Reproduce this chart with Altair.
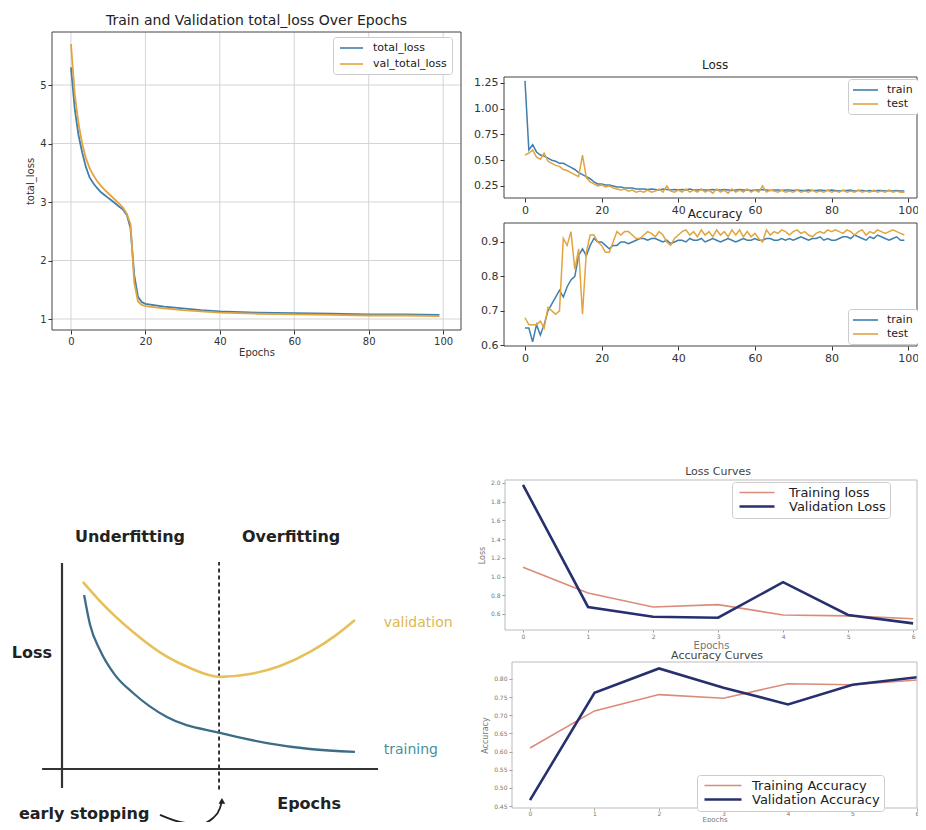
import altair as alt
import pandas as pd

W, H = 910, 814   # drawing area (page minus 8px margins)
M = 8             # page margin

# ---------------- Panel A: Train and Validation total_loss Over Epochs ----------------
a_epochs = [0, 1, 2, 3, 4, 5, 6, 7, 8, 9, 10, 11, 12, 13, 14, 15, 16, 17, 18, 19, 20,
            25, 30, 35, 40, 50, 60, 70, 80, 90, 99]
a_total_loss = [5.30, 4.60, 4.15, 3.85, 3.60, 3.42, 3.32, 3.24, 3.17, 3.12, 3.07, 3.02, 2.97,
                2.92, 2.87, 2.78, 2.55, 1.75, 1.38, 1.29, 1.26,
                1.21, 1.18, 1.15, 1.13, 1.11, 1.10, 1.09, 1.08, 1.08, 1.07]
a_val_total_loss = [5.70, 4.85, 4.35, 4.00, 3.75, 3.58, 3.46, 3.36, 3.28, 3.21, 3.15, 3.09, 3.03,
                    2.97, 2.90, 2.80, 2.62, 1.62, 1.30, 1.24, 1.22,
                    1.18, 1.15, 1.13, 1.11, 1.09, 1.08, 1.07, 1.06, 1.06, 1.05]
a_names = ["total_loss", "val_total_loss"]
a_xticks = [0, 20, 40, 60, 80, 100]
a_yticks = [1, 2, 3, 4, 5]

# ---------------- Panels B / C: Loss and Accuracy (100 epochs) ----------------
bc_epochs = list(range(100))
loss_train = [1.27, 0.60, 0.65, 0.58, 0.55, 0.54, 0.52, 0.50, 0.49, 0.47,
              0.47, 0.45, 0.43, 0.41, 0.38, 0.36, 0.34, 0.32, 0.29, 0.27,
              0.27, 0.26, 0.26, 0.25, 0.24, 0.24, 0.23, 0.23, 0.23, 0.22,
              0.22, 0.22, 0.215, 0.22, 0.215, 0.21, 0.22, 0.215, 0.21, 0.215,
              0.21, 0.215, 0.21, 0.22, 0.21, 0.21, 0.215, 0.21, 0.21, 0.215,
              0.21, 0.21, 0.215, 0.21, 0.205, 0.21, 0.215, 0.21, 0.21, 0.205,
              0.21, 0.21, 0.215, 0.21, 0.205, 0.21, 0.21, 0.205, 0.21, 0.21,
              0.205, 0.21, 0.205, 0.205, 0.21, 0.205, 0.205, 0.21, 0.205, 0.205,
              0.21, 0.205, 0.20, 0.205, 0.205, 0.21, 0.20, 0.205, 0.205, 0.20,
              0.205, 0.20, 0.205, 0.205, 0.20, 0.205, 0.20, 0.205, 0.20, 0.20]
loss_test = [0.55, 0.57, 0.60, 0.53, 0.51, 0.57, 0.49, 0.47, 0.45, 0.44,
             0.41, 0.40, 0.38, 0.36, 0.34, 0.55, 0.33, 0.29, 0.27, 0.25,
             0.26, 0.24, 0.25, 0.23, 0.22, 0.21, 0.22, 0.20, 0.21, 0.19,
             0.20, 0.19, 0.21, 0.19, 0.20, 0.22, 0.19, 0.25, 0.20, 0.19,
             0.21, 0.19, 0.22, 0.19, 0.21, 0.19, 0.22, 0.19, 0.21, 0.18,
             0.22, 0.19, 0.21, 0.18, 0.22, 0.19, 0.21, 0.19, 0.22, 0.19,
             0.21, 0.19, 0.25, 0.19, 0.21, 0.20, 0.19, 0.21, 0.19, 0.20,
             0.19, 0.21, 0.19, 0.20, 0.19, 0.21, 0.19, 0.20, 0.19, 0.21,
             0.19, 0.20, 0.19, 0.21, 0.19, 0.20, 0.19, 0.21, 0.19, 0.20,
             0.19, 0.21, 0.19, 0.20, 0.19, 0.21, 0.19, 0.20, 0.19, 0.19]
acc_train = [0.65, 0.65, 0.61, 0.66, 0.63, 0.66, 0.70, 0.72, 0.74, 0.76,
             0.74, 0.77, 0.79, 0.80, 0.86, 0.88, 0.86, 0.89, 0.91, 0.90,
             0.90, 0.89, 0.88, 0.89, 0.89, 0.90, 0.90, 0.895, 0.90, 0.905,
             0.91, 0.91, 0.905, 0.91, 0.91, 0.905, 0.90, 0.905, 0.895, 0.90,
             0.905, 0.905, 0.90, 0.91, 0.905, 0.905, 0.91, 0.90, 0.905, 0.91,
             0.905, 0.90, 0.905, 0.91, 0.905, 0.90, 0.905, 0.91, 0.905, 0.905,
             0.91, 0.905, 0.905, 0.91, 0.91, 0.905, 0.905, 0.91, 0.905, 0.91,
             0.905, 0.91, 0.915, 0.91, 0.905, 0.91, 0.91, 0.915, 0.905, 0.91,
             0.905, 0.905, 0.91, 0.915, 0.915, 0.91, 0.92, 0.915, 0.91, 0.905,
             0.915, 0.91, 0.92, 0.915, 0.91, 0.905, 0.91, 0.915, 0.905, 0.905]
acc_test = [0.68, 0.66, 0.66, 0.66, 0.67, 0.65, 0.71, 0.70, 0.69, 0.70,
            0.91, 0.89, 0.93, 0.82, 0.88, 0.69, 0.87, 0.92, 0.92, 0.90,
            0.89, 0.87, 0.87, 0.90, 0.93, 0.92, 0.93, 0.93, 0.92, 0.91,
            0.91, 0.92, 0.93, 0.925, 0.915, 0.93, 0.92, 0.90, 0.89, 0.91,
            0.92, 0.93, 0.935, 0.92, 0.93, 0.915, 0.935, 0.92, 0.93, 0.915,
            0.935, 0.92, 0.93, 0.915, 0.935, 0.92, 0.935, 0.915, 0.93, 0.915,
            0.925, 0.91, 0.90, 0.935, 0.92, 0.93, 0.925, 0.935, 0.93, 0.92,
            0.93, 0.935, 0.925, 0.93, 0.92, 0.915, 0.925, 0.93, 0.925, 0.935,
            0.93, 0.935, 0.93, 0.925, 0.935, 0.93, 0.92, 0.93, 0.935, 0.92,
            0.93, 0.925, 0.935, 0.93, 0.925, 0.93, 0.935, 0.93, 0.925, 0.92]
bc_names = ["train", "test"]
bc_xticks = [0, 20, 40, 60, 80, 100]
b_yticks = [0.25, 0.50, 0.75, 1.00, 1.25]
c_yticks = [0.6, 0.7, 0.8, 0.9]

# ---------------- Panels D / E: Loss Curves and Accuracy Curves (7 epochs) ----------------
de_epochs = [0, 1, 2, 3, 4, 5, 6]
train_loss = [1.10, 0.825, 0.675, 0.70, 0.59, 0.58, 0.55]
val_loss = [1.98, 0.675, 0.57, 0.56, 0.94, 0.59, 0.50]
train_acc = [0.61, 0.712, 0.757, 0.747, 0.787, 0.784, 0.797]
val_acc = [0.466, 0.762, 0.829, 0.776, 0.730, 0.784, 0.805]
d_names = ["Training loss", "Validation Loss"]
e_names = ["Training Accuracy", "Validation Accuracy"]
d_yticks = [0.6, 0.8, 1.0, 1.2, 1.4, 1.6, 1.8, 2.0]
e_yticks = [0.45, 0.50, 0.55, 0.60, 0.65, 0.70, 0.75, 0.80]

# ---------------- Panel F: underfitting / overfitting sketch (arbitrary units) ----------------
diag_val_x = [0.66, 1.20, 2.25, 3.32, 4.05, 5.00, 5.95, 6.90, 7.85, 8.64, 9.27]
diag_val_y = [9.08, 8.15, 6.65, 5.45, 4.90, 4.47, 4.61, 5.00, 5.68, 6.46, 7.23]
diag_train_x = [0.70, 0.89, 1.20, 1.68, 2.25, 3.32, 5.00, 6.49, 7.85, 9.27]
diag_train_y = [8.45, 6.99, 5.78, 4.56, 3.69, 2.52, 1.75, 1.26, 0.97, 0.83]
diag_axes = {"x": [0.0, -0.63], "x2": [0.0, 10.0], "y": [-0.92, 0.0], "y2": [10.0, 0.0]}
diag_stop = {"x": [4.97], "y": [-1.0], "y2": [10.05]}
arrow_x = [3.10, 3.73, 4.37, 4.78, 5.00, 5.06]
arrow_y = [-2.23, -2.57, -2.67, -2.38, -1.89, -1.55]
diag_labels = ["Underfitting", "Overfitting", "Loss", "Epochs", "early stopping"]
diag_label_x = [2.15, 7.25, -0.95, 7.82, 0.70]
diag_label_y = [11.26, 11.26, 5.63, -1.70, -2.18]


# ---------------- helpers ----------------
def long_df(xv, series, names):
    rows = []
    for n in names:
        for a, b in zip(xv, series[n]):
            rows.append({"x": a, "y": b, "series": n})
    return pd.DataFrame(rows)


def sx(dom, left, right):
    return alt.Scale(domain=dom, range=[left - M, right - M], nice=False, zero=False)


def sy(dom, bottom, top):
    return alt.Scale(domain=dom, range=[bottom - M, top - M], nice=False, zero=False)


def xaxis(bottom, values, fmt, title, lsize, tsize, color="#333333", tick=4, tcolor="#333333",
          lpad=2, tpad=1):
    return alt.Axis(orient="bottom", offset=(bottom - M) - H, values=values, format=fmt,
                    title=title, labelFontSize=lsize, titleFontSize=tsize, tickSize=tick,
                    domain=False, grid=False, labelFlush=False, labelOverlap=False,
                    tickColor=color, labelColor=tcolor, titleColor=tcolor,
                    titleFontWeight="normal", labelPadding=lpad, titlePadding=tpad)


def yaxis(left, values, fmt, title, lsize, tsize, color="#333333", tick=4, tcolor="#333333"):
    return alt.Axis(orient="left", offset=-(left - M), values=values, format=fmt,
                    title=title, labelFontSize=lsize, titleFontSize=tsize, tickSize=tick,
                    domain=False, grid=False, labelOverlap=False,
                    tickColor=color, labelColor=tcolor, titleColor=tcolor,
                    titleFontWeight="normal", labelPadding=2, titlePadding=4)


def frame(X, Y, xd, yd, color, width=1.0):
    df = pd.DataFrame({"x0": [xd[0]], "x1": [xd[1]], "y0": [yd[0]], "y1": [yd[1]]})
    return alt.Chart(df).mark_rect(fillOpacity=0, stroke=color, strokeWidth=width).encode(
        x=alt.X("x0:Q", scale=X, axis=None), x2="x1:Q",
        y=alt.Y("y0:Q", scale=Y, axis=None), y2="y1:Q")


def ptitle(X, Y, xd, yd, text, size, dy, color="#222222", cx=None):
    mid = (xd[0] + xd[1]) / 2 if cx is None else cx
    df = pd.DataFrame({"x": [mid], "y": [yd[1]], "label": [text]})
    return alt.Chart(df).mark_text(fontSize=size, dy=dy, color=color, baseline="middle").encode(
        x=alt.X("x:Q", scale=X, axis=None), y=alt.Y("y:Q", scale=Y, axis=None), text="label:N")


def leg(x, y, font, size, path, loff, rpad, pad, sw):
    return alt.Legend(orient="none", legendX=x - M, legendY=y - M, title=None,
                      labelFontSize=font, symbolType=path, symbolSize=size,
                      symbolStrokeWidth=sw, labelOffset=loff, rowPadding=rpad,
                      padding=pad, fillColor="white", strokeColor="#cccccc",
                      cornerRadius=3, labelColor="#222222")


BLUE = "#3f7fae"
ORANGE = "#e2a43e"

# ---------------- Panel A ----------------
A_XD, A_YD = [-5.1, 104.8], [0.812, 5.906]
A_X, A_Y = sx(A_XD, 52, 461), sy(A_YD, 330, 32)
a_df = long_df(a_epochs, {"total_loss": a_total_loss, "val_total_loss": a_val_total_loss}, a_names)
a_gx = pd.DataFrame({"t": a_xticks, "y0": A_YD[0], "y1": A_YD[1]})
a_gy = pd.DataFrame({"t": a_yticks, "x0": A_XD[0], "x1": A_XD[1]})
panelA = [
    alt.Chart(a_gx).mark_rule(color="#d0d0d0", strokeWidth=0.9).encode(
        x=alt.X("t:Q", scale=A_X, axis=None), y=alt.Y("y0:Q", scale=A_Y, axis=None), y2="y1:Q"),
    alt.Chart(a_gy).mark_rule(color="#d0d0d0", strokeWidth=0.9).encode(
        y=alt.Y("t:Q", scale=A_Y, axis=None), x=alt.X("x0:Q", scale=A_X, axis=None), x2="x1:Q"),
    alt.Chart(a_df).mark_line(strokeWidth=1.8).encode(
        x=alt.X("x:Q", scale=A_X, axis=xaxis(330, a_xticks, "d", "Epochs", 10, 10)),
        y=alt.Y("y:Q", scale=A_Y, axis=yaxis(52, a_yticks, "d", "total_loss", 10, 10)),
        color=alt.Color("series:N", scale=alt.Scale(domain=a_names, range=[BLUE, ORANGE]),
                        legend=leg(333, 37, 11, 100, "M-0.8,0H3.8", 23, 5, 5, 1.6))),
    frame(A_X, A_Y, A_XD, A_YD, "#444444", 1.0),
    ptitle(A_X, A_Y, A_XD, A_YD, "Train and Validation total_loss Over Epochs", 14, -11),
]

# ---------------- Panel B (Loss) ----------------
B_XD, B_YD = [-5.48, 102.3], [0.133, 1.308]
B_X, B_Y = sx(B_XD, 504, 917), sy(B_YD, 198, 77)
b_df = long_df(bc_epochs, {"train": loss_train, "test": loss_test}, bc_names)
panelB = [
    alt.Chart(b_df).mark_line(strokeWidth=1.5).encode(
        x=alt.X("x:Q", scale=B_X, axis=xaxis(198, bc_xticks, "d", None, 11, 10)),
        y=alt.Y("y:Q", scale=B_Y, axis=yaxis(504, b_yticks, ".2f", None, 11, 10)),
        color=alt.Color("series:N", scale=alt.Scale(domain=bc_names, range=[BLUE, ORANGE]),
                        legend=leg(848, 79, 11, 100, "M-1.2,0H3.8", 22, 3, 5, 1.6))),
    frame(B_X, B_Y, B_XD, B_YD, "#444444", 1.0),
    ptitle(B_X, B_Y, B_XD, B_YD, "Loss", 12, -12, cx=49.6),
]

# ---------------- Panel C (Accuracy) ----------------
C_XD, C_YD = [-5.48, 102.3], [0.598, 0.955]
C_X, C_Y = sx(C_XD, 504, 917), sy(C_YD, 346, 223)
c_df = long_df(bc_epochs, {"train": acc_train, "test": acc_test}, bc_names)
panelC = [
    alt.Chart(c_df).mark_line(strokeWidth=1.5).encode(
        x=alt.X("x:Q", scale=C_X, axis=xaxis(346, bc_xticks, "d", None, 11, 10)),
        y=alt.Y("y:Q", scale=C_Y, axis=yaxis(504, c_yticks, ".1f", None, 11, 10)),
        color=alt.Color("series:N", scale=alt.Scale(domain=bc_names, range=[BLUE, ORANGE]),
                        legend=leg(848, 309, 11, 100, "M-1.2,0H3.8", 22, 3, 5, 1.6))),
    frame(C_X, C_Y, C_XD, C_YD, "#444444", 1.0),
    ptitle(C_X, C_Y, C_XD, C_YD, "Accuracy", 12, -9, cx=49.6),
]

# ---------------- Panel D (Loss Curves) ----------------
SALMON = "#dc8b78"
NAVY = "#27306f"
D_XD, D_YD = [-0.277, 6.06], [0.429, 2.032]
D_X, D_Y = sx(D_XD, 505, 917), sy(D_YD, 630, 480)
d_df = long_df(de_epochs, {"Training loss": train_loss, "Validation Loss": val_loss}, d_names)
panelD = [
    alt.Chart(d_df).mark_line().encode(
        x=alt.X("x:Q", scale=D_X, axis=xaxis(630, de_epochs, "d", "Epochs", 6, 10, "#999999", 2, "#777777", 1)),
        y=alt.Y("y:Q", scale=D_Y, axis=yaxis(505, d_yticks, ".1f", "Loss", 6, 8, "#999999", 3, "#777777")),
        color=alt.Color("series:N", scale=alt.Scale(domain=d_names, range=[SALMON, NAVY]),
                        legend=leg(732, 482, 13, 100, "M-0.6,0H6.4", 40, -1, 4, 2.2)),
        strokeWidth=alt.StrokeWidth("series:N", scale=alt.Scale(domain=d_names, range=[1.6, 2.6]), legend=None)),
    frame(D_X, D_Y, D_XD, D_YD, "#bbbbbb", 1.0),
    ptitle(D_X, D_Y, D_XD, D_YD, "Loss Curves", 11, -8, "#444444", cx=3.0),
]

# ---------------- Panel E (Accuracy Curves) ----------------
E_XD, E_YD = [-0.279, 6.0], [0.4445, 0.8468]
E_X, E_Y = sx(E_XD, 512, 917), sy(E_YD, 808, 662)
e_df = long_df(de_epochs, {"Training Accuracy": train_acc, "Validation Accuracy": val_acc}, e_names)
panelE = [
    alt.Chart(e_df).mark_line().encode(
        x=alt.X("x:Q", scale=E_X, axis=xaxis(808, de_epochs, "d", "Epochs", 6, 7, "#999999", 2, "#777777", 0, -1)),
        y=alt.Y("y:Q", scale=E_Y, axis=yaxis(512, e_yticks, ".2f", "Accuracy", 6, 8, "#999999", 3, "#777777")),
        color=alt.Color("series:N", scale=alt.Scale(domain=e_names, range=[SALMON, NAVY]),
                        legend=leg(697, 775, 13, 100, "M-0.6,0H6.8", 38, -1, 4, 2.2)),
        strokeWidth=alt.StrokeWidth("series:N", scale=alt.Scale(domain=e_names, range=[1.6, 2.6]), legend=None)),
    frame(E_X, E_Y, E_XD, E_YD, "#bbbbbb", 1.0),
    ptitle(E_X, E_Y, E_XD, E_YD, "Accuracy Curves", 11, -6, "#444444", cx=2.9),
]

# ---------------- Panel F (sketch) ----------------
F_X, F_Y = sx([0, 10], 62, 378), sy([0, 10], 769, 563)
f_axes = pd.DataFrame(diag_axes)
f_stop = pd.DataFrame(diag_stop)
f_val = pd.DataFrame({"x": diag_val_x, "y": diag_val_y})
f_train = pd.DataFrame({"x": diag_train_x, "y": diag_train_y})
f_arrow = pd.DataFrame({"x": arrow_x, "y": arrow_y})
f_head = pd.DataFrame({"x": [arrow_x[-1]], "y": [arrow_y[-1]]})
f_lab = pd.DataFrame({"x": diag_label_x, "y": diag_label_y, "label": diag_labels})
f_val_lab = pd.DataFrame({"x": [11.27], "y": [7.09], "label": ["validation"]})
f_train_lab = pd.DataFrame({"x": [11.04], "y": [0.92], "label": ["training"]})


def fx(f):
    return alt.X(f, scale=F_X, axis=None)


def fy(f):
    return alt.Y(f, scale=F_Y, axis=None)


panelF = [
    alt.Chart(f_axes).mark_rule(color="#333333", strokeWidth=2.2).encode(
        x=fx("x:Q"), x2="x2:Q", y=fy("y:Q"), y2="y2:Q"),
    alt.Chart(f_stop).mark_rule(color="#222222", strokeWidth=1.8, strokeDash=[4, 3]).encode(
        x=fx("x:Q"), y=fy("y:Q"), y2="y2:Q"),
    alt.Chart(f_val).mark_line(color="#e6c15a", strokeWidth=2.6, interpolate="monotone").encode(
        x=fx("x:Q"), y=fy("y:Q")),
    alt.Chart(f_train).mark_line(color="#3d6d86", strokeWidth=2.3, interpolate="monotone").encode(
        x=fx("x:Q"), y=fy("y:Q")),
    alt.Chart(f_arrow).mark_line(color="#222222", strokeWidth=1.8, interpolate="monotone").encode(
        x=fx("x:Q"), y=fy("y:Q")),
    alt.Chart(f_head).mark_point(shape="triangle-up", filled=True, color="#222222", size=45, opacity=1).encode(
        x=fx("x:Q"), y=fy("y:Q")),
    alt.Chart(f_lab).mark_text(fontSize=16, fontWeight="bold", color="#222222").encode(
        x=fx("x:Q"), y=fy("y:Q"), text="label:N"),
    alt.Chart(f_val_lab).mark_text(fontSize=14, color="#dcb850").encode(
        x=fx("x:Q"), y=fy("y:Q"), text="label:N"),
    alt.Chart(f_train_lab).mark_text(fontSize=14, color="#4b8f9c").encode(
        x=fx("x:Q"), y=fy("y:Q"), text="label:N"),
]

chart = alt.layer(*(panelA + panelB + panelC + panelD + panelE + panelF)).resolve_scale(
    x="independent", y="independent", color="independent", strokeWidth="independent"
).properties(
    width=W, height=H, padding=0, autosize=alt.AutoSizeParams(type="none"), background="white"
).configure_view(stroke=None).configure_axis(
    labelFont="DejaVu Sans", titleFont="DejaVu Sans"
).configure_legend(labelFont="DejaVu Sans").configure_text(font="DejaVu Sans")

chart.save("out.html", embed_options={"renderer": "svg", "actions": False})
